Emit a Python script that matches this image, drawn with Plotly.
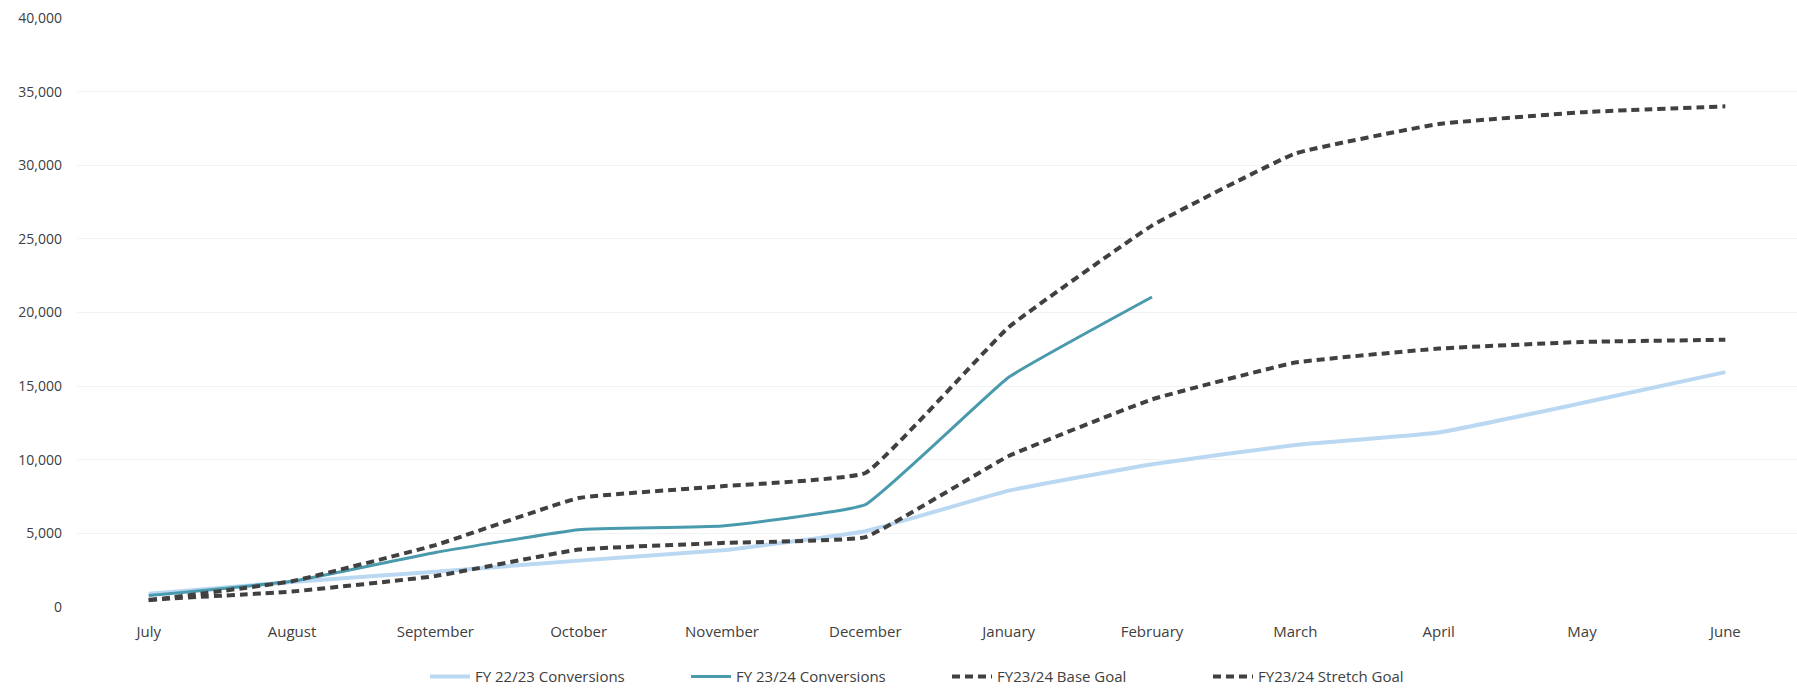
import plotly.graph_objects as go

months = ["July", "August", "September", "October", "November", "December",
          "January", "February", "March", "April", "May", "June"]
fy2223 = [900, 1700, 2400, 3150, 3850, 5150, 7900, 9700, 11000, 11850, 13850, 15950]
fy2324 = [780, 1750, 3700, 5250, 5500, 6950, 15600, 21050]
base_goal = [500, 1050, 2100, 3900, 4350, 4750, 10250, 14100, 16600, 17550, 18000, 18150]
stretch_goal = [450, 1750, 4200, 7400, 8200, 9100, 19000, 25900, 30800, 32800, 33600, 34000]
y_ticks = [0, 5000, 10000, 15000, 20000, 25000, 30000, 35000, 40000]

x_all = list(range(len(months)))

fig = go.Figure()
fig.add_trace(go.Scatter(x=x_all, y=fy2223, mode="lines", name="FY 22/23 Conversions",
                         line=dict(color="#BBD8F2", width=4, shape="spline", smoothing=0.3)))
fig.add_trace(go.Scatter(x=x_all[:len(fy2324)], y=fy2324, mode="lines", name="FY 23/24 Conversions",
                         line=dict(color="#4A9AAD", width=3, shape="spline", smoothing=0.3)))
fig.add_trace(go.Scatter(x=x_all, y=base_goal, mode="lines", name="FY23/24 Base Goal",
                         line=dict(color="#404040", width=4, dash="8px,5px", shape="spline", smoothing=0.3)))
fig.add_trace(go.Scatter(x=x_all, y=stretch_goal, mode="lines", name="FY23/24 Stretch Goal",
                         line=dict(color="#404040", width=4, dash="8px,5px", shape="spline", smoothing=0.3)))

fig.update_layout(
    width=1797, height=692,
    margin=dict(l=77, r=0, t=18, b=85),
    paper_bgcolor="white", plot_bgcolor="white",
    font=dict(family="Open Sans, sans-serif", color="#404040", size=15),
    showlegend=True,
    legend=dict(orientation="h", xref="container", yref="container", x=0.527, y=0.022,
                xanchor="center", yanchor="middle", font=dict(size=15),
                itemwidth=40, entrywidth=206, entrywidthmode="pixels", traceorder="normal"),
    xaxis=dict(range=[-0.5, 11.5], tickmode="array", tickvals=x_all, ticktext=months,
               showgrid=False, zeroline=False, showline=False, ticks="",
               ticklabelstandoff=14),
    yaxis=dict(range=[0, 40000], tickmode="array", tickvals=y_ticks,
               ticktext=[f"{v:,}" for v in y_ticks],
               showgrid=True, gridcolor="#F2F2F2", gridwidth=1, zeroline=False,
               showline=False, ticks="", ticklabelstandoff=14,
               tickfont=dict(family="Open Sans, sans-serif", size=14)),
)

fig.write_html("out.html")
